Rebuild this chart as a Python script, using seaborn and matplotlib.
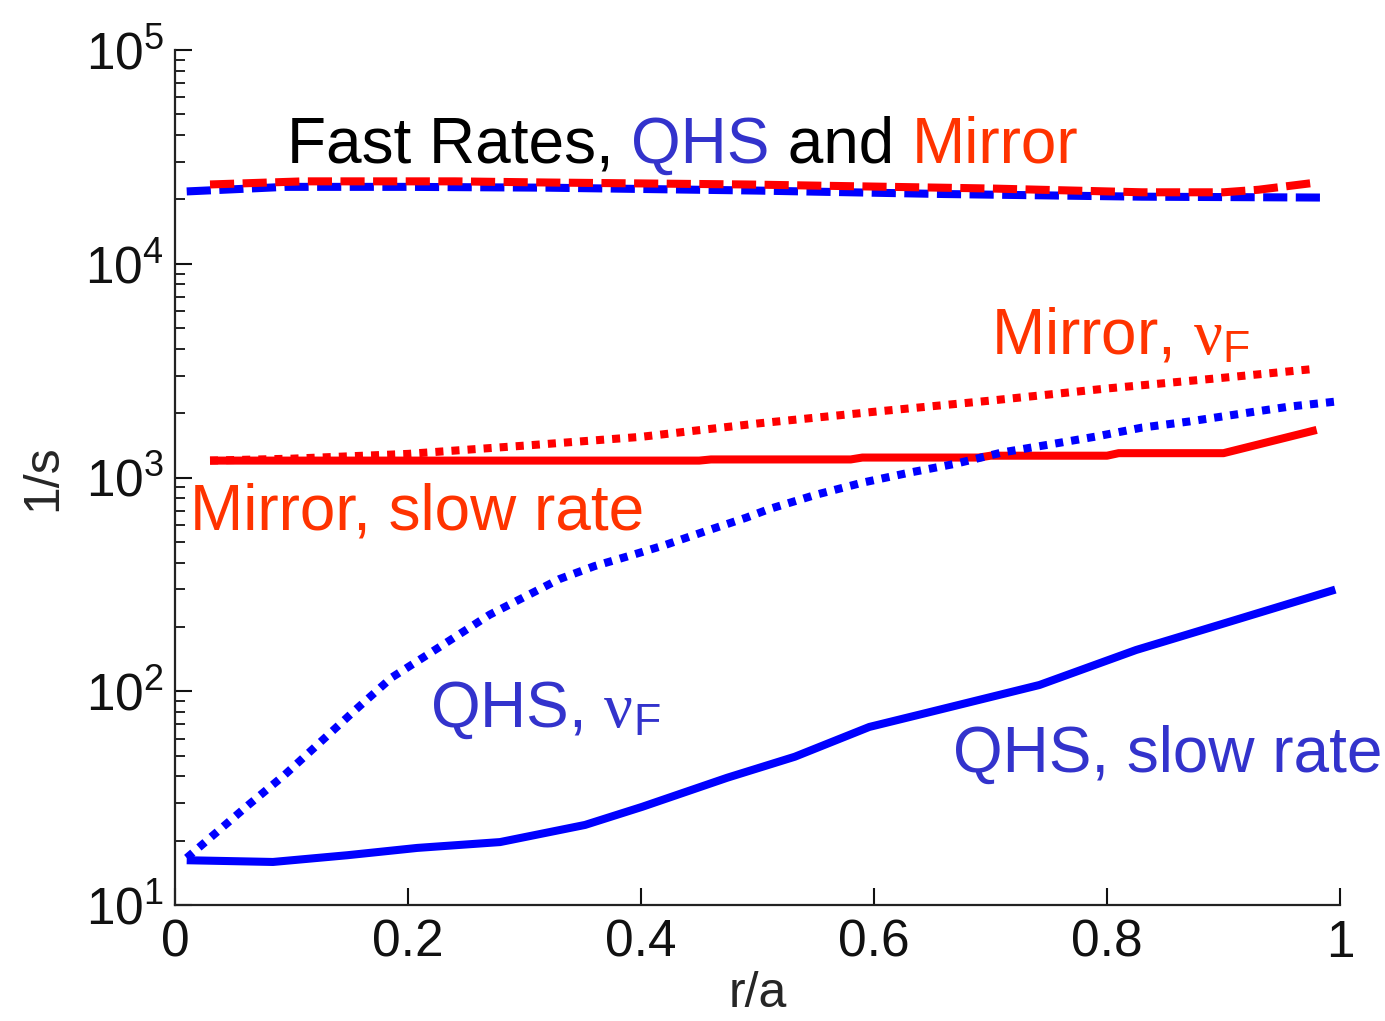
import matplotlib
matplotlib.use("Agg")
import matplotlib.pyplot as plt
import matplotlib.transforms as mtransforms
from matplotlib.ticker import LogLocator, NullFormatter, FixedLocator
import seaborn as sns
import pandas as pd

# ---- data ----
r_fast_qhs = [0.01, 0.095, 0.2, 0.32, 0.5, 0.66, 0.83, 0.99]
fast_qhs = [21800, 22900, 22900, 22700, 22000, 21200, 20600, 20400]

r_fast_mir = [0.03, 0.11, 0.24, 0.32, 0.49, 0.70, 0.83, 0.90, 0.93, 0.98]
fast_mir = [23500, 24300, 24300, 24000, 23500, 22500, 21600, 21600, 22200, 24000]

r_mir_slow = [0.03, 0.45, 0.46, 0.58, 0.59, 0.69, 0.70, 0.80, 0.81, 0.90, 0.98]
mir_slow = [1200, 1200, 1215, 1215, 1240, 1240, 1265, 1265, 1300, 1300, 1670]

r_mir_nuf = [0.03, 0.1, 0.2, 0.3, 0.4, 0.5, 0.6, 0.7, 0.8, 0.9, 0.98]
mir_nuf = [1200, 1225, 1290, 1410, 1550, 1790, 2030, 2290, 2610, 2930, 3230]

r_qhs_nuf = [0.01, 0.03, 0.063, 0.094, 0.125, 0.155, 0.186, 0.219, 0.27, 0.33,
             0.36, 0.39, 0.42, 0.455, 0.49, 0.51, 0.55, 0.59, 0.63, 0.67,
             0.71, 0.75, 0.79, 0.83, 0.87, 0.91, 0.956, 0.996]
qhs_nuf = [16.6, 20.6, 29.4, 40.6, 58, 82, 116, 151, 228, 335,
           385, 430, 482, 560, 648, 712, 830, 946, 1053, 1160,
           1310, 1425, 1553, 1712, 1827, 1970, 2145, 2265]

r_qhs_slow = [0.01, 0.084, 0.148, 0.208, 0.279, 0.352, 0.401, 0.474, 0.532,
              0.596, 0.645, 0.742, 0.825, 0.897, 0.996]
qhs_slow = [16.2, 15.9, 17.1, 18.5, 19.7, 23.7, 28.8, 39.4, 49.4,
            68.1, 79.2, 107, 156, 205, 299]

x_ticks = [0, 0.2, 0.4, 0.6, 0.8, 1]
x_ticklabels = ["0", "0.2", "0.4", "0.6", "0.8", "1"]

BLUE = "#0000FF"
RED = "#FF0000"
TBLUE = "#3333CC"
TRED = "#FF3300"

sns.set_style("ticks")
plt.rcParams["font.family"] = ["Liberation Sans", "DejaVu Sans"]
plt.rcParams["mathtext.fontset"] = "custom"
plt.rcParams["mathtext.rm"] = "Liberation Serif"
plt.rcParams["mathtext.sf"] = "Liberation Sans"
plt.rcParams["mathtext.it"] = "Liberation Serif:italic"

fig = plt.figure(figsize=(13.85, 10.21), dpi=100)
ax = fig.add_axes([0.1264, 0.1136, 0.8411, 0.8374])

lw = 5.8
dotted = (0, (1.0, 1.0))
dashed = (0, (3.0, 1.05))

def draw(r, v, ls, color):
    df = pd.DataFrame({"r": r, "v": v})
    sns.lineplot(data=df, x="r", y="v", ax=ax, color=color, linewidth=lw,
                 linestyle=ls, dash_capstyle="butt", solid_capstyle="butt",
                 estimator=None, sort=False)

draw(r_fast_qhs, fast_qhs, dashed, BLUE)
draw(r_fast_mir, fast_mir, dashed, RED)
draw(r_mir_nuf, mir_nuf, dotted, RED)
draw(r_mir_slow, mir_slow, "-", RED)
draw(r_qhs_nuf, qhs_nuf, dotted, BLUE)
draw(r_qhs_slow, qhs_slow, "-", BLUE)

ax.set_yscale("log")
ax.set_xlim(0, 1)
ax.set_ylim(10, 1e5)
ax.xaxis.set_major_locator(FixedLocator(x_ticks))
ax.set_xticklabels(x_ticklabels)
ax.yaxis.set_major_locator(LogLocator(base=10, numticks=10))
ax.yaxis.set_minor_locator(LogLocator(base=10, subs=range(2, 10), numticks=50))
ax.yaxis.set_minor_formatter(NullFormatter())

for s in ["top", "right"]:
    ax.spines[s].set_visible(False)
for s in ["left", "bottom"]:
    ax.spines[s].set_linewidth(1.6)
    ax.spines[s].set_color("#222222")

ax.tick_params(axis="both", which="major", direction="in", length=12, width=1.5,
               labelsize=37, colors="#111111", left=True, bottom=True)
ax.tick_params(axis="y", which="minor", direction="in", length=7, width=1.3,
               colors="#111111", left=True)
ax.tick_params(axis="x", which="minor", bottom=False)
ax.tick_params(axis="x", which="major", pad=10)
ax.tick_params(axis="y", which="major", pad=8)

ax.set_xlabel("r/a", fontsize=36, labelpad=2)
ax.set_ylabel("1/s", fontsize=36, labelpad=14)

fs = 46
# multi-colour title line
fig.canvas.draw()
renderer = fig.canvas.get_renderer()
pieces = [("Fast Rates, ", "black"), ("QHS", TBLUE), (" and ", "black"), ("Mirror", TRED)]
dx = 0.0
for s, c in pieces:
    t = ax.text(0.096, 29800, s, fontsize=fs, color=c, ha="left", va="baseline",
                transform=mtransforms.offset_copy(ax.transData, fig=fig, x=dx, y=0, units="dots"))
    dx += t.get_window_extent(renderer).width

ax.text(0.70, 3760, r"Mirror, $\mathrm{\nu}_{\mathsf{F}}$", fontsize=fs, color=TRED,
        ha="left", va="baseline")
ax.text(0.013, 570, "Mirror, slow rate", fontsize=fs, color=TRED,
        ha="left", va="baseline")
ax.text(0.219, 68, r"QHS, $\mathrm{\nu}_{\mathsf{F}}$", fontsize=fs, color=TBLUE,
        ha="left", va="baseline")
ax.text(0.668, 42, "QHS, slow rate", fontsize=fs, color=TBLUE,
        ha="left", va="baseline", clip_on=False)

fig.savefig("out.png", dpi=100)
